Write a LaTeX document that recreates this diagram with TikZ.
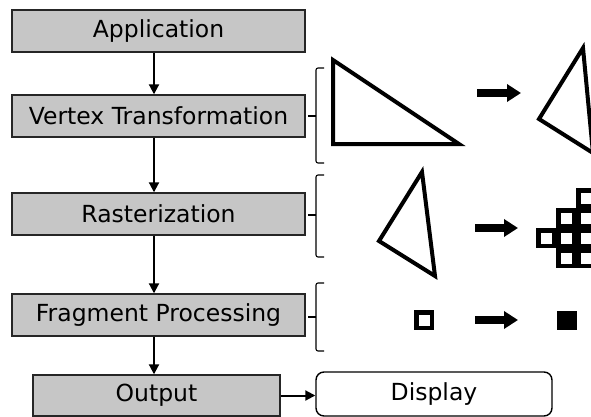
\documentclass[tikz,border=0pt]{standalone}
\usepackage{fontspec}
\setmainfont{DejaVu Sans}
\usetikzlibrary{arrows.meta}
\begin{document}
\begin{tikzpicture}[x=1pt,y=-1pt,
  stage/.style={draw=black!85, line width=1.4pt, fill=gray!45, inner sep=0pt,
    minimum width=293pt, minimum height=42pt,
    font=\fontsize{23.5}{27}\selectfont, text=black},
  flow/.style={line width=2pt, -{Triangle[length=10pt,width=10pt]}},
  bracket/.style={line width=1.1pt, rounded corners=2pt},
  outline/.style={line width=4pt, line join=miter},
  bigarrow/.style={line width=8pt, -{Triangle[length=14pt,width=17pt]}},
  cell/.style={draw, line width=4.5pt}]
\useasboundingbox (0,0) rectangle (591,417);

% pipeline stages
\node[stage] (app)  at (158.5,31)  {Application};
\node[stage] (vt)   at (158.5,116) {Vertex Transformation};
\node[stage] (ras)  at (158.5,214) {Rasterization};
\node[stage] (frag) at (158.5,315) {Fragment Processing};
\node[stage, minimum width=247pt, minimum height=41pt] (out) at (156.5,395.5) {Output};
\node[draw, rounded corners=8pt, line width=1.4pt, minimum width=236pt, minimum height=44pt,
  inner sep=0pt, font=\fontsize{23.5}{27}\selectfont] (disp) at (434,394) {Display};

% flow between stages
\coordinate (ax) at (154,0);
\draw[flow] (app.south -| ax) -- (vt.north -| ax);
\draw[flow] (vt.south -| ax) -- (ras.north -| ax);
\draw[flow] (ras.south -| ax) -- (frag.north -| ax);
\draw[flow] (frag.south -| ax) -- (out.north -| ax);
\draw[flow] (out.east) -- (out.east -| disp.west);

% brackets next to the stages
\draw[bracket] (324,68) -- (316,68) -- (316,163) -- (324,163);
\draw[line width=1.1pt] (308,116) -- (316,116);
\draw[bracket] (324,175) -- (316,175) -- (316,257) -- (324,257);
\draw[line width=1.1pt] (308,215) -- (316,215);
\draw[bracket] (324,283) -- (316,283) -- (316,351) -- (324,351);
\draw[line width=1.1pt] (308,317) -- (316,317);

\begin{scope}
\clip (0,0) rectangle (591,417);
% vertex transformation
\draw[outline] (333,60) -- (333,144) -- (459,144) -- cycle;
\draw[bigarrow] (477,93) -- (521,93);
\draw[outline] (583,48) -- (539,119) -- (593,153) -- cycle;
% rasterization
\draw[outline] (422,172) -- (379,241) -- (435,276) -- cycle;
\draw[bigarrow] (475,228) -- (518,228);
\foreach \c/\r in {2/0,1/1,2/1,0/2,1/2,2/2,1/3,2/3}
  \draw[cell] (536+20*\c+2.25, 188+20*\r+2.25) rectangle ++(15.5,15.5);
% fragment processing
\draw[cell] (416.25,312.25) rectangle ++(15.5,15.5);
\draw[bigarrow] (475,320) -- (518,320);
\fill (557,311) rectangle (577,330);
\end{scope}
\end{tikzpicture}
\end{document}
